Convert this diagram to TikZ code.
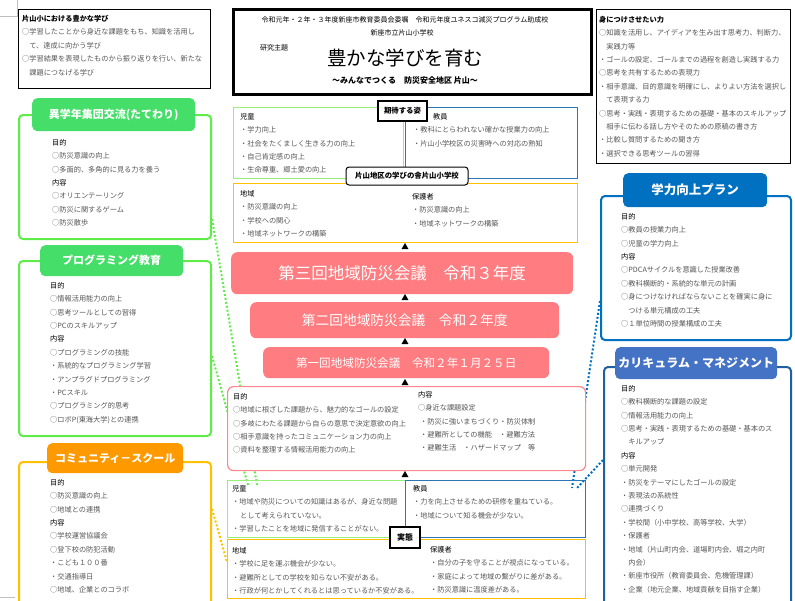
\documentclass[tikz,border=0pt]{standalone}
\usepackage{fontspec}
\setmainfont{Noto Sans CJK JP}
\usetikzlibrary{shapes.geometric}

\definecolor{tabgreen}{RGB}{68,222,104}
\definecolor{linegreen}{RGB}{96,236,72}
\definecolor{palegreen}{RGB}{150,240,120}
\definecolor{midblue}{RGB}{46,117,182}
\definecolor{tabblue}{RGB}{0,112,192}
\definecolor{tabsteel}{RGB}{68,114,196}
\definecolor{curriline}{RGB}{32,96,160}
\definecolor{goldline}{RGB}{255,192,0}
\definecolor{taborange}{RGB}{255,153,0}
\definecolor{salmon}{RGB}{255,124,128}
\definecolor{pinkline}{RGB}{255,135,140}
\definecolor{bodygray}{RGB}{85,85,85}

\newcommand{\midashi}[1]{\textcolor{black}{#1}}

\begin{document}
\begin{tikzpicture}[x=1pt,y=-1pt,
    frame/.style={draw, anchor=north west, inner sep=0pt},
    panel/.style={frame, draw=#1, line width=2pt, rounded corners=4pt},
    tab/.style={anchor=north west, inner sep=0pt, fill=#1, rounded corners=5pt, text=white, font=\fontsize{11}{11}\bfseries\selectfont},
    body/.style={anchor=north west, align=left, inner sep=0pt, text=bodygray, font=\fontsize{7.2}{13.4}\selectfont},
    tag/.style={draw, fill=white, inner sep=0pt, font=\fontsize{7.4}{7.4}\bfseries\selectfont},
    meeting/.style={anchor=north west, inner sep=0pt, fill=salmon, rounded corners=6pt, text=white},
    tri/.style={regular polygon, regular polygon sides=3, fill=black, inner sep=0pt, minimum size=8pt},
    link/.style={draw=#1, line width=2pt, dash pattern=on 2pt off 2pt}]
    \useasboundingbox (0,0) rectangle (795,600);

    % marks
    \draw[gray!50] (17,0) -- (17,16) -- (0,16);
    \draw[gray!50] (0,597) -- (15,597);

    % side panels and tabs
    \node[panel=linegreen, minimum width=192, minimum height=124] (tate) at (18,114) {};
    \node[panel=linegreen, minimum width=192, minimum height=175] (prog) at (18,260) {};
    \node[panel=goldline, minimum width=192, minimum height=150] (comm) at (18,461) {};
    \node[panel=tabblue, minimum width=190, minimum height=144] (plan) at (600,195) {};
    \node[panel=curriline, minimum width=187, minimum height=244] (curri) at (603,366) {};

    % dotted links
    \draw[link=linegreen] ([yshift=-42]tate.east) -- (257,485);
    \draw[link=linegreen] ([yshift=-7.5]prog.east) -- (248,485);
    \draw[link=goldline] ([yshift=28]comm.east) -- (227,562);
    \draw[link=tabblue] ([yshift=-33]plan.west) -- (572,488);
    \draw[link=tabblue] ([yshift=29]curri.west) -- (577,488);

    \node[tab=tabgreen, minimum width=163, minimum height=33] (tatetab) at (32,98) {異学年集団交流(たてわり)};
    \node[tab=tabgreen, minimum width=143, minimum height=31] (progtab) at (40,245) {プログラミング教育};
    \node[tab=taborange, minimum width=136, minimum height=30] (commtab) at (47,443) {コミュニティ－スクール};
    \node[tab=tabblue, minimum width=144, minimum height=34, font=\fontsize{12.5}{12.5}\bfseries\selectfont] (plantab) at (623,173) {学力向上プラン};
    \node[tab=tabsteel, minimum width=162, minimum height=32, font=\fontsize{12}{12}\bfseries\selectfont] (curritab) at (615,347) {カリキュラム・マネジメント};

    \node[body] (tatetxt) at (52,139) {\midashi{目的}\\○防災意識の向上\\○多面的、多角的に見る力を養う\\\midashi{内容}\\○オリエンテーリング\\○防災に関するゲーム\\○防災散歩};
    \node[body] (progtxt) at (50,282) {\midashi{目的}\\○情報活用能力の向上\\○思考ツールとしての習得\\○PCのスキルアップ\\\midashi{内容}\\○プログラミングの技能\\・系統的なプログラミング学習\\・アンプラグドプログラミング\\・PCスキル\\○プログラミング的思考\\○ロボP(東海大学)との連携};
    \node[body] (commtxt) at (50,479) {\midashi{目的}\\○防災意識の向上\\○地域との連携\\\midashi{内容}\\○学校運営協議会\\○登下校の防犯活動\\・こども１００番\\・交通指導日\\○地域、企業とのコラボ};
    \node[body] (plantxt) at (621,213) {\midashi{目的}\\○教員の授業力向上\\○児童の学力向上\\\midashi{内容}\\○PDCAサイクルを意識した授業改善\\○教科横断的・系統的な単元の計画\\○身につけなければならないことを確実に身に\\\hspace{1em}つける単元構成の工夫\\○１単位時間の授業構成の工夫};
    \node[body] (curritxt) at (621,385) {\midashi{目的}\\○教科横断的な課題の設定\\○情報活用能力の向上\\○思考・実践・表現するための基礎・基本のス\\\hspace{1em}キルアップ\\\midashi{内容}\\○単元開発\\・防災をテーマにしたゴールの設定\\・表現法の系統性\\○連携づくり\\・学校間（小中学校、高等学校、大学）\\・保護者\\・地域（片山町内会、道場町内会、堀之内町\\\hspace{1em}内会）\\・新座市役所（教育委員会、危機管理課）\\・企業（地元企業、地域貢献を目指す企業）};

    % top boxes
    \node[frame, line width=1pt, minimum width=192, minimum height=79] (manabi) at (18,9) {};
    \node[body] (manabitxt) at (22,15) {\textbf{\midashi{片山小における豊かな学び}}\\○学習したことから身近な課題をもち、知識を活用し\\\hspace{1em}て、達成に向かう学び\\○学習結果を表現したものから振り返りを行い、新たな\\\hspace{1em}課題につなげる学び};

    \node[frame, line width=2.5pt, minimum width=358, minimum height=85] (shudai) at (232,8) {};
    \node[font=\fontsize{7}{7}\selectfont] (josei) at (405,20) {令和元年・２年・３年度新座市教育委員会委嘱　令和元年度ユネスコ減災プログラム助成校};
    \node[font=\fontsize{7}{7}\selectfont] (gakko) at (402,33) {新座市立片山小学校};
    \node[font=\fontsize{7}{7}\selectfont] (kenkyu) at (274,48) {研究主題};
    \node[font=\fontsize{19.5}{20}\selectfont] (daimei) at (405,58) {豊かな学びを育む};
    \node[font=\fontsize{8}{8}\bfseries\selectfont] (fukudai) at (405,80) {～みんなでつくる　防災安全地区 片山～};

    \node[frame, line width=1pt, minimum width=194, minimum height=154] (chikara) at (596,9) {};
    \node[body] (chikaratxt) at (599,16) {\textbf{\midashi{身につけさせたい力}}\\○知識を活用し、アイディアを生み出す思考力、判断力、\\\hspace{1em}実践力等\\・ゴールの設定、ゴールまでの過程を創造し実践する力\\○思考を共有するための表現力\\・相手意識、目的意識を明確にし、よりよい方法を選択し\\\hspace{1em}て表現する力\\○思考・実践・表現するための基礎・基本のスキルアップ\\\hspace{1em}相手に伝わる話し方やそのための原稿の書き方\\・比較し質問するための聞き方\\・選択できる思考ツールの習得};

    % expected figures
    \node[frame, draw=palegreen, line width=1.2pt, minimum width=170, minimum height=71] (jidoA) at (233,107) {};
    \node[frame, draw=midblue, line width=1.2pt, minimum width=172, minimum height=71] (kyoinA) at (405,107) {};
    \node[frame, draw=goldline, line width=1.2pt, minimum width=344, minimum height=59] (chiikiA) at (233,183) {};
    \node[body] (jidoAtxt) at (240,113) {\midashi{児童}\\・学力向上\\・社会をたくましく生きる力の向上\\・自己肯定感の向上\\・生命尊重、郷土愛の向上};
    \node[body] (kyoinAtxt) at (413,113) {\hspace{20pt}\midashi{教員}\\・教科にとらわれない確かな授業力の向上\\・片山小学校区の災害時への対応の熟知};
    \node[body] (chiikiAtxt) at (240,190) {\midashi{地域}\\・防災意識の向上\\・学校への関心\\・地域ネットワークの構築};
    \node[body] (hogoshaAtxt) at (412,193) {\midashi{保護者}\\・防災意識の向上\\・地域ネットワークの構築};
    \node[tag, line width=1.6pt, minimum width=49, minimum height=20] (kitai) at (402.5,111) {期待する姿};
    \node[tag, line width=1pt, rounded corners=3pt, minimum width=122, minimum height=18] (manabiya) at (407,176) {片山地区の学びの舎片山小学校};

    % meetings
    \node[tri] (t1) at (405,247) {};
    \node[meeting, minimum width=342, minimum height=42, font=\fontsize{16.5}{17}\selectfont] (kaigi3) at (231,252) {第三回地域防災会議　令和３年度};
    \node[tri] (t2) at (405,298) {};
    \node[meeting, minimum width=309, minimum height=36, font=\fontsize{13.7}{14}\selectfont] (kaigi2) at (250,302) {第二回地域防災会議　令和２年度};
    \node[tri] (t3) at (405,342) {};
    \node[meeting, minimum width=286, minimum height=31, font=\fontsize{11.6}{12}\selectfont] (kaigi1) at (263,347) {第一回地域防災会議　令和２年１月２５日};
    \node[tri] (t4) at (405,383) {};

    % plan
    \node[frame, draw=pinkline, fill=white, line width=1.2pt, rounded corners=6pt, minimum width=358, minimum height=84] (keikaku) at (227,386) {};
    \node[body] (mokutekitxt) at (233,393) {\midashi{目的}\\○地域に根ざした課題から、魅力的なゴールの設定\\○多岐にわたる課題から自らの意思で決定意欲の向上\\○相手意識を持ったコミュニケーション力の向上\\○資料を整理する情報活用能力の向上};
    \node[body] (naiyotxt) at (418,391) {\midashi{内容}\\○身近な課題設定\\\hspace{2pt}・防災に強いまちづくり・防災体制\\\hspace{2pt}・避難所としての機能　・避難方法\\\hspace{2pt}・避難生活　・ハザードマップ　等};
    \node[tri] (t5) at (405,475) {};

    % present state
    \node[frame, draw=palegreen, line width=1.2pt, minimum width=178, minimum height=57] (jidoB) at (227,480) {};
    \node[frame, draw=midblue, line width=1.2pt, minimum width=180, minimum height=57] (kyoinB) at (405,480) {};
    \node[frame, draw=goldline, line width=1.2pt, minimum width=358, minimum height=59] (chiikiB) at (227,539) {};
    \node[body] (jidoBtxt) at (232,485) {\midashi{児童}\\・地域や防災についての知識はあるが、身近な問題\\\hspace{8pt}として考えられていない。\\・学習したことを地域に発信することがない。};
    \node[body] (kyoinBtxt) at (413,485) {\midashi{教員}\\・力を向上させるための研修を重ねている。\\・地域について知る機会が少ない。};
    \node[body] (chiikiBtxt) at (232,547) {\midashi{地域}\\・学校に足を運ぶ機会が少ない。\\・避難所としての学校を知らない不安がある。\\・行政が何とかしてくれるとは思っているか不安がある。};
    \node[body] (hogoshaBtxt) at (430,546) {\midashi{保護者}\\・自分の子を守ることが視点になっている。\\・家庭によって地域の繋がりに差がある。\\・防災意識に温度差がある。};
    \node[tag, line width=1.6pt, minimum width=30, minimum height=21, font=\fontsize{8}{8}\bfseries\selectfont] (jittai) at (405,537.5) {実態};
\end{tikzpicture}
\end{document}
